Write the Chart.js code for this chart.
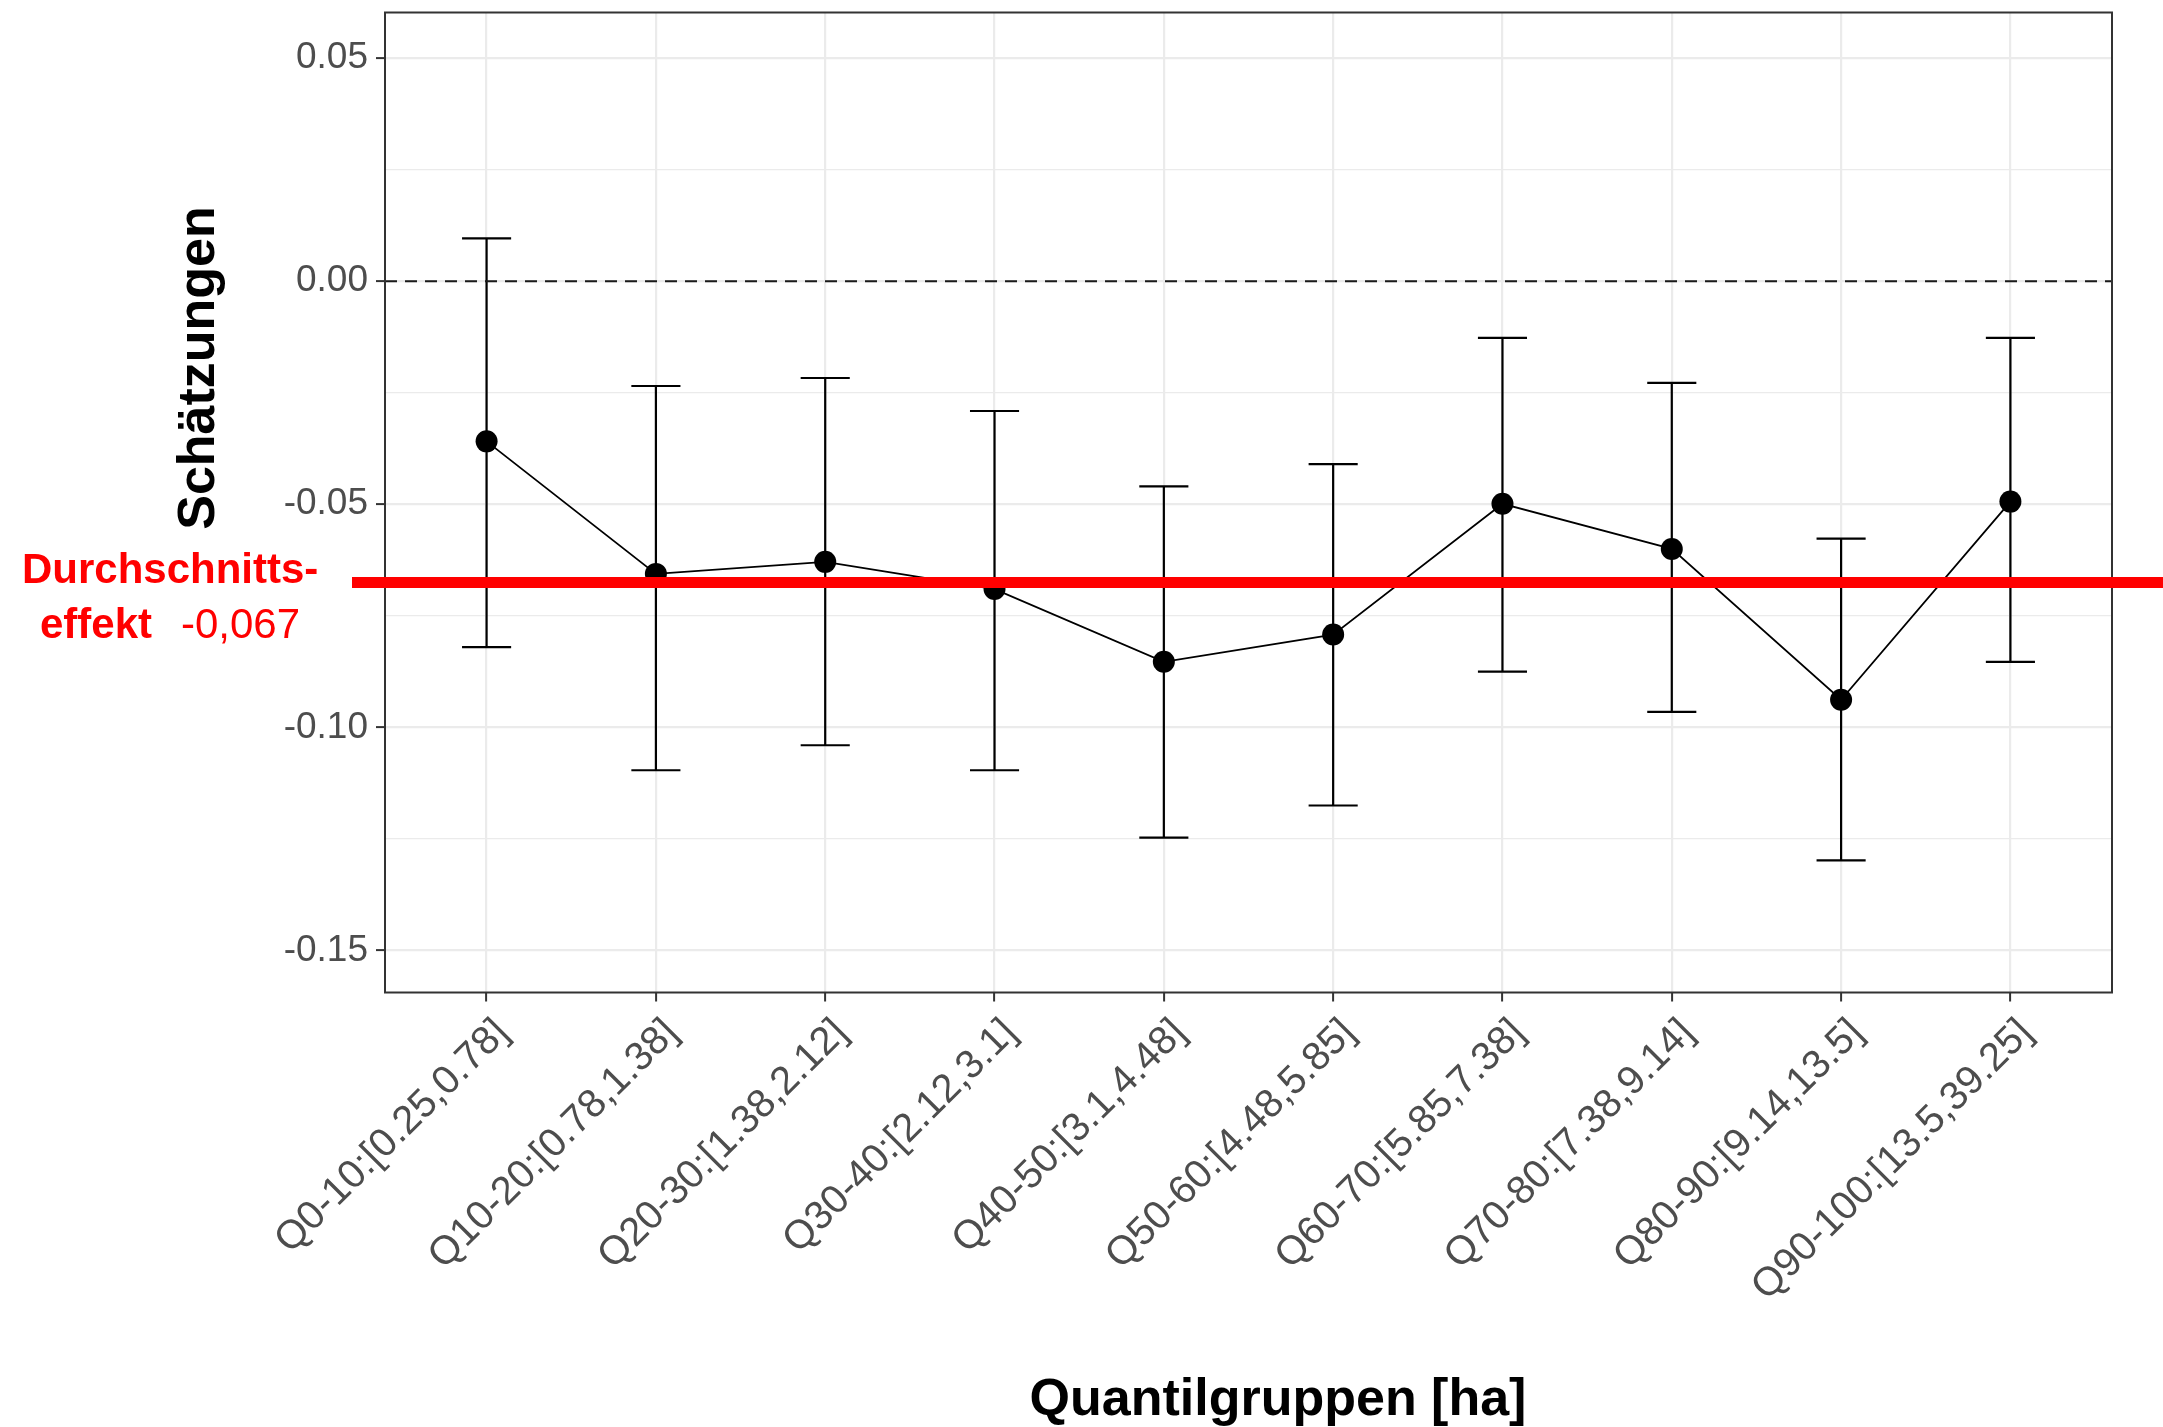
<!DOCTYPE html>
<html>
<head>
<meta charset="utf-8">
<script src="https://cdn.jsdelivr.net/npm/chart.js@4.4.1/dist/chart.umd.min.js"></script>
<style>
  html, body { margin: 0; padding: 0; background: #ffffff; }
  #wrap { width: 2163px; height: 1427px; position: relative; }
</style>
</head>
<body>
<div id="wrap"><canvas id="c" width="2163" height="1427"></canvas></div>
<script>
// ---------------- data ----------------
const categories = [
  "Q0-10:[0.25,0.78]", "Q10-20:[0.78,1.38]", "Q20-30:[1.38,2.12]", "Q30-40:[2.12,3.1]",
  "Q40-50:[3.1,4.48]", "Q50-60:[4.48,5.85]", "Q60-70:[5.85,7.38]", "Q70-80:[7.38,9.14]",
  "Q80-90:[9.14,13.5]", "Q90-100:[13.5,39.25]"
];
const estimates = [-0.0359, -0.0656, -0.0629, -0.0690, -0.0853, -0.0792, -0.0499, -0.0600, -0.0938, -0.0494];
const upperCI   = [ 0.0096, -0.0235, -0.0217, -0.0291, -0.0460, -0.0410, -0.0127, -0.0228, -0.0577, -0.0127];
const lowerCI   = [-0.0820, -0.1096, -0.1040, -0.1096, -0.1247, -0.1175, -0.0875, -0.0965, -0.1298, -0.0853];
const yMajorTicks = [-0.15, -0.10, -0.05, 0.00, 0.05];
const yMinorTicks = [-0.125, -0.075, -0.025, 0.025];
const zeroLine = 0;
const averageEffect = -0.0675;
const averageLabelLines = ["Durchschnitts-", "effekt", "-0,067"];
const yTitle = "Schätzungen";
const xTitle = "Quantilgruppen [ha]";

// ---------------- helpers ----------------
const isMajor = v => yMajorTicks.some(t => Math.abs(t - v) < 1e-9);
const W = 2163, H = 1427;

const errorBarPlugin = {
  id: 'errorBars',
  beforeDatasetsDraw(chart) {
    const { ctx, scales: { x, y } } = chart;
    const capW = 0.29;
    ctx.save();
    ctx.strokeStyle = '#000000';
    ctx.lineWidth = 2.2;
    ctx.lineCap = 'butt';
    categories.forEach((c, i) => {
      const px = x.getPixelForValue(i + 1);
      const xl = x.getPixelForValue(i + 1 - capW / 2);
      const xr = x.getPixelForValue(i + 1 + capW / 2);
      const yu = y.getPixelForValue(upperCI[i]);
      const yl = y.getPixelForValue(lowerCI[i]);
      ctx.beginPath();
      ctx.moveTo(px, yu); ctx.lineTo(px, yl);
      ctx.moveTo(xl, yu); ctx.lineTo(xr, yu);
      ctx.moveTo(xl, yl); ctx.lineTo(xr, yl);
      ctx.stroke();
    });
    ctx.restore();
  },
  afterDatasetsDraw(chart) {
    const { ctx, chartArea: a } = chart;
    ctx.save();
    ctx.strokeStyle = '#333333';
    ctx.lineWidth = 2;
    ctx.strokeRect(a.left, a.top, a.right - a.left, a.bottom - a.top);
    ctx.restore();
  },
  afterDraw(chart) {
    const { ctx, chartArea: a, scales: { y } } = chart;
    ctx.save();
    // average effect line
    const ya = y.getPixelForValue(averageEffect);
    ctx.strokeStyle = '#ff0000';
    ctx.lineWidth = 11;
    ctx.beginPath();
    ctx.moveTo(a.left - 33, ya);
    ctx.lineTo(W, ya);
    ctx.stroke();
    // annotation text
    ctx.fillStyle = '#ff0000';
    ctx.textBaseline = 'alphabetic';
    ctx.textAlign = 'left';
    ctx.font = 'bold 42px "Liberation Sans", Arial, sans-serif';
    ctx.fillText(averageLabelLines[0], 22, 583);
    ctx.fillText(averageLabelLines[1], 40, 638);
    ctx.font = '42px "Liberation Sans", Arial, sans-serif';
    ctx.fillText(averageLabelLines[2], 181, 638);
    // axis titles
    ctx.fillStyle = '#000000';
    ctx.font = 'bold 52px "Liberation Sans", Arial, sans-serif';
    ctx.textAlign = 'center';
    ctx.fillText(xTitle, 1278, 1415);
    ctx.translate(214, 368);
    ctx.rotate(-Math.PI / 2);
    ctx.textBaseline = 'alphabetic';
    ctx.fillText(yTitle, 0, 0);
    ctx.restore();
  }
};

const ctx = document.getElementById('c').getContext('2d');
new Chart(ctx, {
  type: 'line',
  data: {
    datasets: [
      {
        label: 'Schätzungen',
        data: estimates.map((v, i) => ({ x: i + 1, y: v })),
        borderColor: '#000000',
        borderWidth: 1.8,
        pointRadius: 11,
        pointBackgroundColor: '#000000',
        pointBorderWidth: 0,
        pointHoverRadius: 11,
        tension: 0,
        order: 1
      },
      {
        label: 'Null',
        data: [{ x: 0.4, y: zeroLine }, { x: 10.6, y: zeroLine }],
        borderColor: '#1a1a1a',
        borderWidth: 2,
        borderDash: [12, 8],
        pointRadius: 0,
        order: 2
      }
    ]
  },
  options: {
    responsive: false,
    animation: false,
    devicePixelRatio: 1,
    events: [],
    layout: { padding: { left: 0, right: 51, top: 12.5, bottom: 0 } },
    plugins: { legend: { display: false }, tooltip: { enabled: false } },
    scales: {
      x: {
        type: 'linear',
        position: 'bottom',
        min: 0.4,
        max: 10.6,
        afterBuildTicks: s => { s.ticks = categories.map((c, i) => ({ value: i + 1 })); },
        afterFit: s => { s.height = 434.5; s.paddingLeft = 0; s.paddingRight = 0; },
        border: { display: false },
        grid: { color: '#ebebeb', lineWidth: 2.2, tickColor: '#333333', tickLength: 9, tickWidth: 2 },
        ticks: {
          callback: v => categories[Math.round(v) - 1],
          autoSkip: false,
          minRotation: 45,
          maxRotation: 45,
          padding: 8,
          labelOffset: 16,
          color: '#4d4d4d',
          font: { family: '"Liberation Sans", Arial, sans-serif', size: 40 }
        }
      },
      y: {
        type: 'linear',
        min: -0.1594,
        max: 0.0602,
        afterBuildTicks: s => {
          s.ticks = yMajorTicks.concat(yMinorTicks).sort((a, b) => a - b).map(v => ({ value: v }));
        },
        afterFit: s => { s.width = 385; s.paddingTop = 0; s.paddingBottom = 0; },
        border: { display: false },
        grid: {
          color: '#ebebeb',
          lineWidth: c => isMajor(c.tick.value) ? 2.2 : 1.2,
          tickColor: c => isMajor(c.tick.value) ? '#333333' : 'rgba(0,0,0,0)',
          tickLength: 9,
          tickWidth: 2
        },
        ticks: {
          callback: v => isMajor(v) ? v.toFixed(2) : '',
          padding: 8,
          color: '#4d4d4d',
          font: { family: '"Liberation Sans", Arial, sans-serif', size: 37 }
        }
      }
    }
  },
  plugins: [errorBarPlugin]
});
</script>
</body>
</html>
